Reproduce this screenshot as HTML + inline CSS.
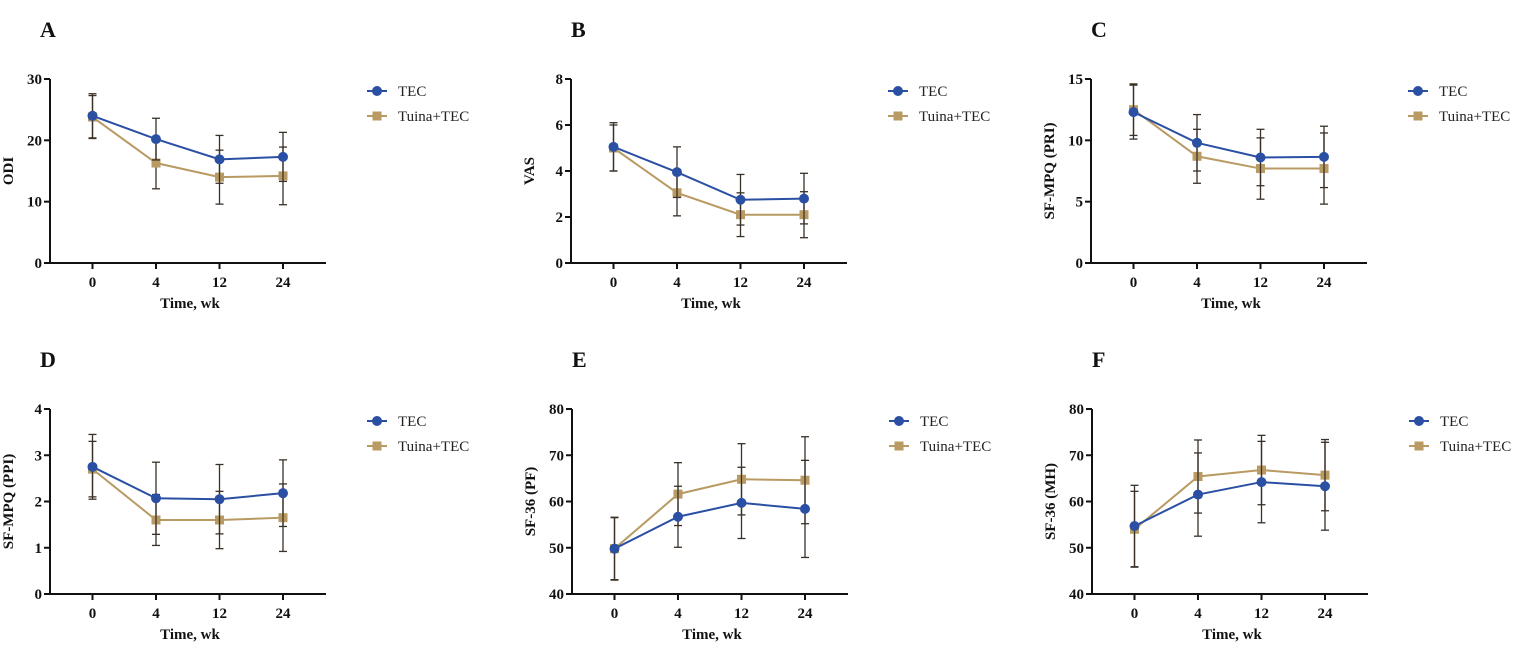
<!DOCTYPE html>
<html><head><meta charset="utf-8">
<style>
html,body{margin:0;padding:0;background:#fff;}
svg{display:block;}
text{font-family:"Liberation Serif",serif;}
</style></head>
<body>
<svg id="chart" width="1535" height="649" viewBox="0 0 1535 649" xmlns="http://www.w3.org/2000/svg"></svg>
<script>
const timeLabels = ["0","4","12","24"];
const panelLetters = ["A","B","C","D","E","F"];
const yTitles = ["ODI","VAS","SF-MPQ (PRI)","SF-MPQ (PPI)","SF-36 (PF)","SF-36 (MH)"];
const yMins = [0,0,0,0,40,40];
const yMaxs = [30,8,15,4,80,80];
const yStepsArr = [10,2,5,1,10,10];
const tecA = [24.0,20.2,16.9,17.3];      const tecAErr = [3.6,3.4,3.9,4.0];
const tuiA = [23.8,16.3,14.0,14.2];      const tuiAErr = [3.5,4.2,4.4,4.7];
const tecB = [5.05,3.95,2.75,2.8];       const tecBErr = [1.05,1.1,1.1,1.1];
const tuiB = [5.0,3.05,2.1,2.1];         const tuiBErr = [1.0,1.0,0.95,1.0];
const tecC = [12.3,9.8,8.6,8.65];        const tecCErr = [2.2,2.3,2.3,2.5];
const tuiC = [12.5,8.7,7.7,7.7];         const tuiCErr = [2.1,2.2,2.5,2.9];
const tecD = [2.75,2.07,2.05,2.18];      const tecDErr = [0.7,0.78,0.75,0.72];
const tuiD = [2.7,1.6,1.6,1.65];         const tuiDErr = [0.6,0.55,0.62,0.73];
const tecE = [49.8,56.7,59.7,58.4];      const tecEErr = [6.8,6.6,7.7,10.5];
const tuiE = [49.8,61.6,64.8,64.6];      const tuiEErr = [6.7,6.8,7.7,9.4];
const tecF = [54.7,61.5,64.2,63.3];      const tecFErr = [8.8,9.0,8.8,9.5];
const tuiF = [54.0,65.4,66.8,65.7];      const tuiFErr = [8.2,7.9,7.5,7.7];

const tecAll=[tecA,tecB,tecC,tecD,tecE,tecF], tecErrAll=[tecAErr,tecBErr,tecCErr,tecDErr,tecEErr,tecFErr];
const tuiAll=[tuiA,tuiB,tuiC,tuiD,tuiE,tuiF], tuiErrAll=[tuiAErr,tuiBErr,tuiCErr,tuiDErr,tuiEErr,tuiFErr];
const svg=document.getElementById('chart');
const NS='http://www.w3.org/2000/svg';
function mk(tag,attrs,parent){const e=document.createElementNS(NS,tag);for(const k in attrs)e.setAttribute(k,attrs[k]);(parent||svg).appendChild(e);return e;}
const BLUE='#2a4fa3', TAN='#b89a62', ERR='#3a3128';
const axXs=[50,571,1091,50,572,1092];
const tops=[79,79,79,409,409,409], bots=[263,263,263,594,594,594];

for(let p=0;p<6;p++){
  const g=mk('g',{});
  
  
  const ax=axXs[p], top=tops[p], bot=bots[p];
  const yMin=yMins[p], yMax=yMaxs[p];
  const y=v=>bot-(v-yMin)/(yMax-yMin)*(bot-top);
  const x=i=>ax+42.5+i*63.5;
  const lx = p%3===0 ? ax-10 : ax;
  const L=mk('text',{x:lx,y:top-42,'font-size':22,'font-weight':'bold',fill:'#111'},g);L.textContent=panelLetters[p];
  
  const ya=mk('line',{x1:ax,y1:top,x2:ax,y2:bot+1,stroke:'#111','stroke-width':2},g);
  
  const xa=mk('line',{x1:ax-1,y1:bot,x2:ax+276,y2:bot,stroke:'#111','stroke-width':2},g);
  
  for(let v=yMin;v<=yMax+1e-9;v+=yStepsArr[p]){
    mk('line',{x1:ax-6,y1:y(v),x2:ax,y2:y(v),stroke:'#111','stroke-width':2},g);
    const t=mk('text',{x:ax-8,y:y(v)+5,'font-size':15,'font-weight':'bold','text-anchor':'end',fill:'#111'},g);t.textContent=v;
    
  }
  for(let i=0;i<timeLabels.length;i++){
    mk('line',{x1:x(i),y1:bot,x2:x(i),y2:bot+6,stroke:'#111','stroke-width':2},g);
    const t=mk('text',{x:x(i),y:bot+24,'font-size':15,'font-weight':'bold','text-anchor':'middle',fill:'#111'},g);t.textContent=timeLabels[i];
    
  }
  const xt=mk('text',{x:ax+140,y:bot+45,'font-size':15,'font-weight':'bold','text-anchor':'middle',fill:'#111'},g);xt.textContent='Time, wk';
  
  const cy=(top+bot)/2;
  const yt=mk('text',{x:ax-37,y:cy,'font-size':15,'font-weight':'bold','text-anchor':'middle',fill:'#111',transform:`rotate(-90 ${ax-37} ${cy})`},g);yt.textContent=yTitles[p];
  
  const series=[[tuiAll[p],tuiErrAll[p],TAN,'tuina-tec'],[tecAll[p],tecErrAll[p],BLUE,'tec']];
  for(const [vals,errs,col,nm] of series){
    const sg=mk('g',{},g);
    
    for(let i=0;i<vals.length;i++){
      const hi=y(vals[i]+errs[i]), lo=y(vals[i]-errs[i]);
      mk('line',{x1:x(i),y1:hi,x2:x(i),y2:lo,stroke:ERR,'stroke-width':1.3},sg);
      mk('line',{x1:x(i)-4,y1:hi,x2:x(i)+4,y2:hi,stroke:ERR,'stroke-width':1.3},sg);
      mk('line',{x1:x(i)-4,y1:lo,x2:x(i)+4,y2:lo,stroke:ERR,'stroke-width':1.3},sg);
    }
    mk('polyline',{points:vals.map((v,i)=>x(i)+','+y(v)).join(' '),fill:'none',stroke:col,'stroke-width':2},sg);
    for(let i=0;i<vals.length;i++){
      let m;
      if(nm==='tec') m=mk('circle',{cx:x(i),cy:y(vals[i]),r:5,fill:col},sg);
      else m=mk('rect',{x:x(i)-4.5,y:y(vals[i])-4.5,width:9,height:9,fill:col},sg);
      
    }
  }
  const lg=mk('g',{},g);
  
  const lX=ax+317, lY=top+12;
  mk('line',{x1:lX,y1:lY,x2:lX+20,y2:lY,stroke:BLUE,'stroke-width':2},lg);
  mk('circle',{cx:lX+10,cy:lY,r:5,fill:BLUE},lg);
  let t=mk('text',{x:lX+31,y:lY+5,'font-size':15,fill:'#222'},lg);t.textContent='TEC';
  
  mk('line',{x1:lX,y1:lY+25,x2:lX+20,y2:lY+25,stroke:TAN,'stroke-width':2},lg);
  mk('rect',{x:lX+5.5,y:lY+20.5,width:9,height:9,fill:TAN},lg);
  t=mk('text',{x:lX+31,y:lY+30,'font-size':15,fill:'#222'},lg);t.textContent='Tuina+TEC';
  
}
</script>
</body></html>
